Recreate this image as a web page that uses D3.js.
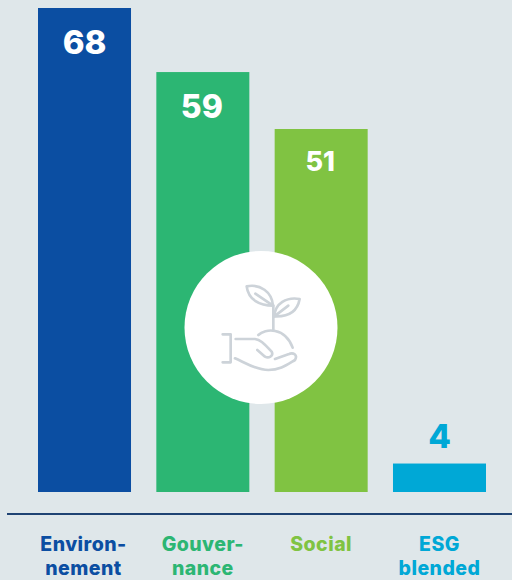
<!DOCTYPE html>
<html><head><meta charset="utf-8">
<script src="https://cdn.jsdelivr.net/npm/d3@7"></script>
<style>html,body{margin:0;padding:0;background:#dfe7ea}svg{display:block}text{font-family:Inter,"Open Sans",sans-serif;font-weight:800}</style>
</head><body><svg id="c" width="512" height="580"></svg>
<script>
const categories = ["Environnement","Gouvernance","Social","ESG blended"];
const categoryLines = [["Environ-","nement"],["Gouver-","nance"],["Social"],["ESG","blended"]];
const values = [68,59,51,4];
const colors = ["#0b4ea2","#2cb673","#80c342","#00a8d6"];
const valueFontSizes = [33,32,27,33];

const svg = d3.select("#c");
const x = d3.scaleBand().domain(categories).range([38,486]).paddingInner(0.214);
const y = d3.scaleLinear().domain([0,68]).range([492,8]);

svg.selectAll("rect.bar").data(categories).join("rect").attr("class","bar")
  .attr("x",d=>x(d)).attr("width",x.bandwidth())
  .attr("y",(d,i)=>y(values[i])).attr("height",(d,i)=>y(0)-y(values[i]))
  .attr("fill",(d,i)=>colors[i]);

svg.selectAll("text.val").data(categories).join("text").attr("class","val")
  .attr("x",(d,i)=>x(d)+x.bandwidth()/2+(i===1?-1:i===2?-1:0))
  .attr("y",(d,i)=> i===3 ? y(values[i])-16 : y(values[i]) + (i===2?42:46))
  .attr("text-anchor","middle")
  .attr("font-size",(d,i)=>valueFontSizes[i])
  .attr("fill",(d,i)=> i===3 ? colors[3] : "#fff")
  .text((d,i)=>values[i]);

// baseline
svg.append("line").attr("x1",7).attr("x2",512).attr("y1",514).attr("y2",514)
  .attr("stroke","#1f4373").attr("stroke-width",2);

// category labels
svg.selectAll("text.cat").data(categories).join("text").attr("class","cat")
  .attr("text-anchor","middle").attr("font-size",19.5).attr("letter-spacing",0.45)
  .attr("fill",(d,i)=>colors[i])
  .each(function(d,i){
    const t=d3.select(this);
    categoryLines[i].forEach((l,j)=>t.append("tspan")
      .attr("x",x(d)+x.bandwidth()/2+(i===0?-1:0)).attr("y",550.5+j*24).text(l));
  });

// central badge
svg.append("circle").attr("cx",261).attr("cy",327.5).attr("r",76.5).attr("fill","#fff");
const icon = svg.append("g").attr("transform","translate(180,245) scale(0.3333)")
  .attr("fill","none").attr("stroke","#cdd3d9").attr("stroke-width",8)
  .attr("stroke-linecap","round").attr("stroke-linejoin","round");
[
 "M200 124C240 116 276 140 279 182C240 182 205 165 200 124Z",
 "M226 146L279 182",
 "M359 162C320 155 285 175 283 214C325 216 352 200 359 162Z",
 "M283 214L325 182",
 "M280 182V255",
 "M235 270C255 250 315 245 338 308",
 "M128 268H152V352H128",
 "M167 282H225C245 285 255 300 275 320C282 335 265 340 255 335L232 315",
 "M165 340C190 350 225 375 265 375C300 375 320 360 345 345C354 330 340 320 325 328L285 342"
].forEach(p=>icon.append("path").attr("d",p));
</script></body></html>
